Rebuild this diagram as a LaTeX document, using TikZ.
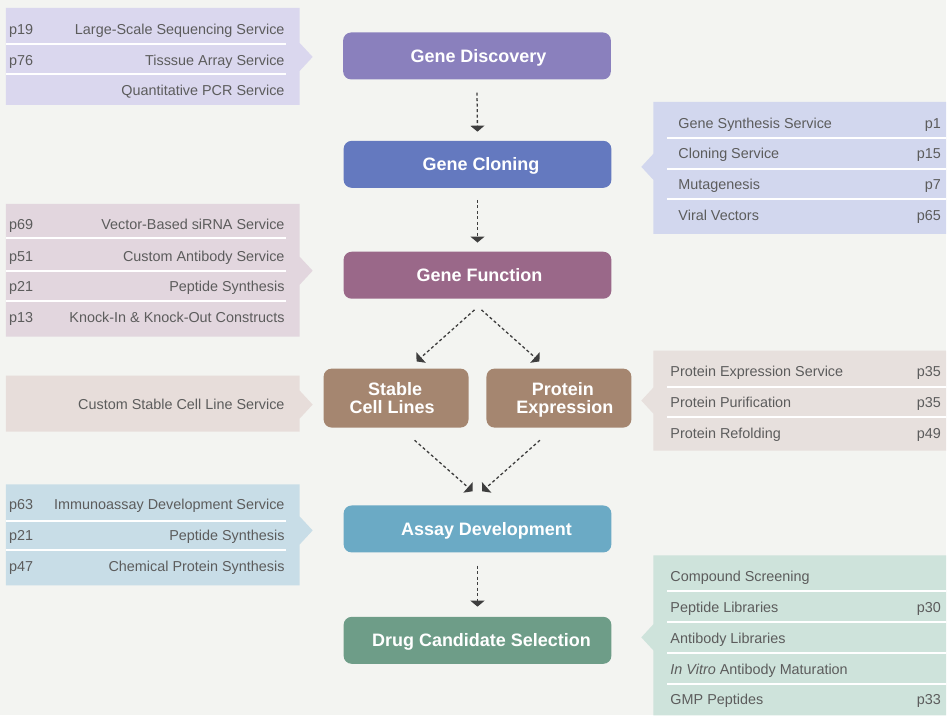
\documentclass[tikz,border=0pt]{standalone}
\usepackage{fontspec}
\setmainfont{Liberation Sans}
\usepackage{xcolor}
\usetikzlibrary{positioning,arrows.meta}

\definecolor{bgc}{HTML}{F3F4F1}
\definecolor{txtgray}{HTML}{5C5C5C}
\definecolor{arrowgray}{HTML}{3E3E3E}
% stage colours
\definecolor{discC}{HTML}{8A80BD}
\definecolor{clonC}{HTML}{6479BF}
\definecolor{funcC}{HTML}{9A6889}
\definecolor{protC}{HTML}{A58670}
\definecolor{assayC}{HTML}{6BAAC5}
\definecolor{drugC}{HTML}{6E9D88}
% panel colours
\definecolor{discP}{HTML}{DAD7EE}
\definecolor{clonP}{HTML}{D2D7EE}
\definecolor{funcP}{HTML}{E2D6DE}
\definecolor{stabP}{HTML}{E7DDDA}
\definecolor{protP}{HTML}{E7E0DD}
\definecolor{assayP}{HTML}{C8DDE7}
\definecolor{drugP}{HTML}{CEE3DB}

\begin{document}
\begin{tikzpicture}[x=1pt,y=-1pt,
  stage/.style={rounded corners=8pt, minimum width=268pt, minimum height=47pt,
    text=white, inner sep=0pt, text height=12.9pt, text depth=0pt,
    font=\fontsize{18}{18}\selectfont\bfseries},
  substage/.style={stage, fill=protC, minimum width=145pt, minimum height=59pt,
    text height=, align=center},
  item/.style={inner sep=0pt, text height=10.3pt, text depth=0pt, text=txtgray,
    font=\fontsize{14.4}{16}\selectfont},
  sep/.style={white, line width=2pt},
  flow/.style={arrowgray, line width=1.3pt, dash pattern=on 3pt off 2.5pt,
    -{Triangle[width=14pt,length=6pt]}}]

  % Background
  \fill[bgc] (0,0) rectangle (947,716);

  % --- Side panels ---
  % Gene Discovery (left)
  \fill[discP] (6,8) -- (300,8) -- (300,43) -- (313,57) -- (300,71) -- (300,105) -- (6,105) -- cycle;
  \draw[sep] (6,44) -- (286,44);
  \draw[sep] (6,74) -- (286,74);
  \node[item, anchor=west] (d1p) at (9,29) {p19};
  \node[item, anchor=east] (d1) at (285,29) {Large-Scale Sequencing Service};
  \node[item, anchor=west] (d2p) at (9,60) {p76};
  \node[item, anchor=east] (d2) at (285,60) {Tisssue Array Service};
  \node[item, anchor=east] (d3) at (285,90) {Quantitative PCR Service};

  % Gene Cloning (right)
  \fill[clonP] (654,102) -- (947,102) -- (947,234) -- (654,234) -- (654,180) -- (642,167) -- (654,154) -- cycle;
  \draw[sep] (668,138) -- (947,138);
  \draw[sep] (668,169) -- (947,169);
  \draw[sep] (668,199.5) -- (947,199.5);
  \node[item, anchor=west] (c1) at (679,123) {Gene Synthesis Service};
  \node[item, anchor=east] (c1p) at (942,123) {p1};
  \node[item, anchor=west] (c2) at (679,154) {Cloning Service};
  \node[item, anchor=east] (c2p) at (942,154) {p15};
  \node[item, anchor=west] (c3) at (679,185) {Mutagenesis};
  \node[item, anchor=east] (c3p) at (942,185) {p7};
  \node[item, anchor=west] (c4) at (679,215.5) {Viral Vectors};
  \node[item, anchor=east] (c4p) at (942,215.5) {p65};

  % Gene Function (left)
  \fill[funcP] (6,204) -- (300,204) -- (300,257) -- (313,271) -- (300,285) -- (300,337) -- (6,337) -- cycle;
  \draw[sep] (6,238) -- (286,238);
  \draw[sep] (6,271) -- (286,271);
  \draw[sep] (6,301) -- (286,301);
  \node[item, anchor=west] (f1p) at (9,225) {p69};
  \node[item, anchor=east] (f1) at (285,225) {Vector-Based siRNA Service};
  \node[item, anchor=west] (f2p) at (9,256.5) {p51};
  \node[item, anchor=east] (f2) at (285,256.5) {Custom Antibody Service};
  \node[item, anchor=west] (f3p) at (9,287) {p21};
  \node[item, anchor=east] (f3) at (285,287) {Peptide Synthesis};
  \node[item, anchor=west] (f4p) at (9,318) {p13};
  \node[item, anchor=east] (f4) at (285,318) {Knock-In \& Knock-Out Constructs};

  % Stable Cell Lines (left)
  \fill[stabP] (6,376) -- (300,376) -- (300,391) -- (313,405) -- (300,419) -- (300,432) -- (6,432) -- cycle;
  \node[item, anchor=east] (s1) at (285,405) {Custom Stable Cell Line Service};

  % Protein Expression (right)
  \fill[protP] (654,351) -- (947,351) -- (947,451) -- (654,451) -- (654,414) -- (642,401) -- (654,388) -- cycle;
  \draw[sep] (668,387.5) -- (947,387.5);
  \draw[sep] (668,417) -- (947,417);
  \node[item, anchor=west] (e1) at (671,372) {Protein Expression Service};
  \node[item, anchor=east] (e1p) at (942,372) {p35};
  \node[item, anchor=west] (e2) at (671,403) {Protein Purification};
  \node[item, anchor=east] (e2p) at (942,403) {p35};
  \node[item, anchor=west] (e3) at (671,434) {Protein Refolding};
  \node[item, anchor=east] (e3p) at (942,434) {p49};

  % Assay Development (left)
  \fill[assayP] (6,485) -- (300,485) -- (300,517) -- (313,531) -- (300,545) -- (300,586) -- (6,586) -- cycle;
  \draw[sep] (6,521.5) -- (286,521.5);
  \draw[sep] (6,551) -- (286,551);
  \node[item, anchor=west] (a1p) at (9,505) {p63};
  \node[item, anchor=east] (a1) at (285,505) {Immunoassay Development Service};
  \node[item, anchor=west] (a2p) at (9,536) {p21};
  \node[item, anchor=east] (a2) at (285,536) {Peptide Synthesis};
  \node[item, anchor=west] (a3p) at (9,567) {p47};
  \node[item, anchor=east] (a3) at (285,567) {Chemical Protein Synthesis};

  % Drug Candidate Selection (right)
  \fill[drugP] (654,556) -- (947,556) -- (947,716) -- (654,716) -- (654,651) -- (642,638) -- (654,625) -- cycle;
  \draw[sep] (668,592) -- (947,592);
  \draw[sep] (668,623) -- (947,623);
  \draw[sep] (668,654) -- (947,654);
  \draw[sep] (668,685) -- (947,685);
  \node[item, anchor=west] (g1) at (671,577) {Compound Screening};
  \node[item, anchor=west] (g2) at (671,607.5) {Peptide Libraries};
  \node[item, anchor=east] (g2p) at (942,607.5) {p30};
  \node[item, anchor=west] (g3) at (671,639) {Antibody Libraries};
  \node[item, anchor=west] (g4) at (671,670) {{\itshape In Vitro} Antibody Maturation};
  \node[item, anchor=west] (g5) at (671,700) {GMP Peptides};
  \node[item, anchor=east] (g5p) at (942,700) {p33};

  % --- Stages ---
  \node[stage, fill=discC] (disc) at (477.5,56) {\hspace*{3pt}Gene Discovery};
  \node[stage, fill=clonC] (clon) at (478,164.5) {\hspace*{7pt}Gene Cloning};
  \node[stage, fill=funcC] (func) at (478,275.5) {\hspace*{4pt}Gene Function};
  \node[substage] (stab) at (396.5,398.5) {Stable\hspace*{2pt}\\Cell Lines\hspace*{8pt}};
  \node[substage] (prot) at (559.5,398.5) {\hspace*{8pt}Protein\\\hspace*{12pt}Expression};
  \node[stage, fill=assayC] (assay) at (478,529.5) {\hspace*{18pt}Assay Development};
  \node[stage, fill=drugC] (drug) at (478,641) {\hspace*{8pt}Drug Candidate Selection};

  % --- Flow ---
  \draw[flow] ([yshift=-13pt]disc.south) -- ([yshift=9pt]clon.north);
  \draw[flow] ([yshift=-12pt]clon.south) -- ([yshift=9pt]func.north);
  \draw[flow] ([xshift=-3pt,yshift=-11pt]func.south) -- ([xshift=20.5pt,yshift=7pt]stab.north);
  \draw[flow] ([xshift=4pt,yshift=-11pt]func.south) -- ([xshift=-19.5pt,yshift=7pt]prot.north);
  \draw[flow] ([xshift=18.5pt,yshift=-12.5pt]stab.south) -- ([xshift=-5pt,yshift=14pt]assay.north);
  \draw[flow] ([xshift=-19pt,yshift=-12.5pt]prot.south) -- ([xshift=4.7pt,yshift=14pt]assay.north);
  \draw[flow] ([yshift=-13pt]assay.south) -- ([yshift=10pt]drug.north);
\end{tikzpicture}
\end{document}
